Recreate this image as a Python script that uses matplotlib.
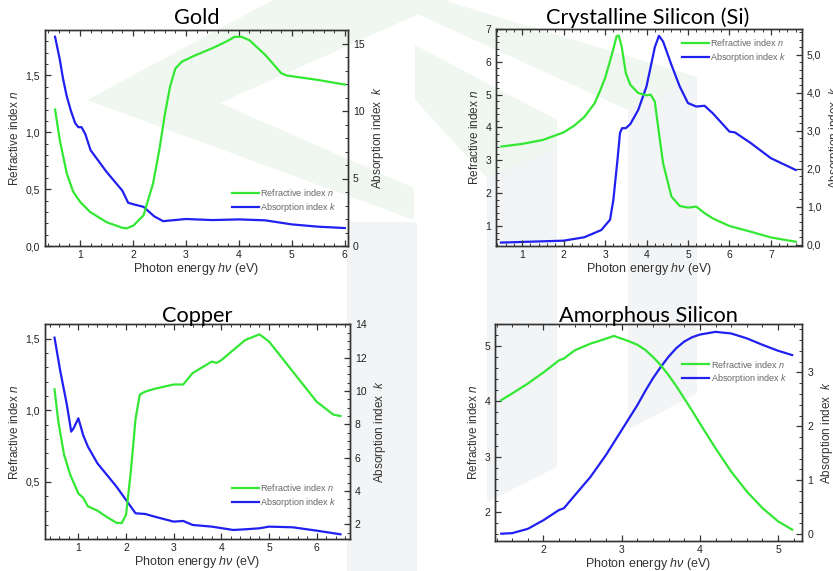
import numpy as np
import matplotlib
matplotlib.use("Agg")
import matplotlib.pyplot as plt
from matplotlib.patches import Polygon
from matplotlib.ticker import MultipleLocator, FuncFormatter

plt.rcParams['font.family'] = ['Liberation Sans', 'DejaVu Sans']
plt.rcParams['mathtext.fontset'] = 'custom'
plt.rcParams['mathtext.it'] = 'Liberation Sans:italic'
plt.rcParams['mathtext.rm'] = 'Liberation Sans'

GREEN = '#33e833'
BLUE = '#2020f0'

# ---- Gold
gold_n_x = [0.53, 0.62, 0.75, 0.87, 1.00, 1.19, 1.50, 1.80, 1.88, 2.01, 2.20, 2.38, 2.50, 2.60, 2.70,
            2.80, 2.92, 3.14, 3.50, 3.77, 3.92, 4.05, 4.20, 4.50, 4.80, 4.90, 5.50, 6.00]
gold_n = [1.20, 0.93, 0.64, 0.48, 0.39, 0.30, 0.21, 0.16, 0.155, 0.18, 0.27, 0.55, 0.85, 1.15, 1.40,
          1.56, 1.62, 1.67, 1.74, 1.80, 1.84, 1.84, 1.81, 1.68, 1.52, 1.50, 1.46, 1.42]
gold_k_x = [0.53, 0.62, 0.68, 0.75, 0.83, 0.91, 0.97, 1.03, 1.10, 1.20, 1.50, 1.80, 1.91, 2.00, 2.20,
            2.40, 2.57, 3.00, 3.50, 4.00, 4.50, 5.00, 5.50, 6.00]
gold_k = [15.5, 13.8, 12.4, 11.1, 10.0, 9.1, 8.8, 8.8, 8.3, 7.1, 5.5, 4.1, 3.2, 3.1, 2.9,
          2.2, 1.84, 2.0, 1.92, 1.97, 1.9, 1.6, 1.43, 1.33]

# ---- Crystalline silicon
csi_n_x = [0.50, 1.00, 1.50, 2.00, 2.25, 2.50, 2.75, 2.88, 3.00, 3.16, 3.28, 3.33, 3.40, 3.50, 3.61,
           3.80, 4.00, 4.10, 4.20, 4.30, 4.40, 4.60, 4.80, 5.00, 5.20, 5.40, 5.60, 6.00, 6.50, 7.00, 7.60]
csi_n = [3.42, 3.50, 3.62, 3.85, 4.05, 4.32, 4.74, 5.12, 5.50, 6.20, 6.78, 6.80, 6.47, 5.66, 5.30,
         5.05, 4.98, 5.00, 4.79, 3.83, 2.91, 1.90, 1.61, 1.56, 1.59, 1.39, 1.23, 1.00, 0.83, 0.65, 0.52]
csi_k_x = [0.49, 2.00, 2.50, 2.91, 3.12, 3.20, 3.30, 3.36, 3.41, 3.50, 3.61, 3.80, 4.00, 4.20, 4.30,
           4.40, 4.60, 4.80, 5.00, 5.20, 5.40, 5.60, 6.00, 6.13, 6.50, 7.00, 7.60]
csi_k = [0.06, 0.11, 0.20, 0.39, 0.66, 1.18, 2.24, 2.94, 3.07, 3.07, 3.18, 3.55, 4.17, 5.20, 5.50,
         5.35, 4.74, 4.17, 3.73, 3.64, 3.66, 3.46, 2.98, 2.96, 2.69, 2.28, 1.97]

# ---- Copper
cu_n_x = [0.50, 0.58, 0.70, 0.83, 1.00, 1.10, 1.20, 1.40, 1.60, 1.80, 1.91, 2.00, 2.10, 2.20, 2.29,
          2.40, 2.60, 3.00, 3.20, 3.40, 3.80, 3.90, 4.00, 4.50, 4.80, 5.00, 5.50, 6.00, 6.35, 6.50]
cu_n = [1.146, 0.92, 0.69, 0.55, 0.42, 0.39, 0.33, 0.30, 0.255, 0.215, 0.213, 0.27, 0.57, 0.94, 1.11,
        1.13, 1.15, 1.18, 1.18, 1.26, 1.34, 1.33, 1.35, 1.49, 1.53, 1.48, 1.27, 1.06, 0.97, 0.96]
cu_k_x = [0.50, 0.62, 0.76, 0.85, 0.90, 1.00, 1.10, 1.20, 1.40, 1.60, 1.80, 2.00, 2.20, 2.40, 2.60,
          3.00, 3.20, 3.40, 3.80, 4.25, 4.50, 4.80, 5.00, 5.50, 6.00, 6.50]
cu_k = [13.2, 11.2, 9.16, 7.56, 7.76, 8.36, 7.36, 6.66, 5.66, 4.96, 4.26, 3.46, 2.66, 2.62, 2.46,
        2.16, 2.20, 1.96, 1.86, 1.66, 1.70, 1.76, 1.86, 1.82, 1.62, 1.40]

# ---- Amorphous silicon
asi_x = [1.46, 1.60, 1.80, 2.00, 2.20, 2.26, 2.40, 2.60, 2.80, 2.90, 3.00, 3.10, 3.20, 3.30, 3.40,
         3.50, 3.60, 3.70, 3.80, 3.90, 4.00, 4.20, 4.40, 4.60, 4.80, 5.00, 5.18]
asi_n = [4.02, 4.14, 4.32, 4.52, 4.74, 4.77, 4.92, 5.04, 5.13, 5.18, 5.13, 5.08, 5.02, 4.93, 4.80,
         4.65, 4.47, 4.27, 4.05, 3.83, 3.60, 3.15, 2.73, 2.37, 2.07, 1.83, 1.68]
asi_k = [0.01, 0.02, 0.10, 0.26, 0.45, 0.48, 0.72, 1.06, 1.47, 1.70, 1.93, 2.16, 2.39, 2.65, 2.89,
         3.10, 3.29, 3.45, 3.57, 3.65, 3.70, 3.75, 3.72, 3.63, 3.51, 3.40, 3.32]

W, H = 833, 571
fig = plt.figure(figsize=(W / 100, H / 100), dpi=100)


def px(pts):
    return [(x / W, 1 - y / H) for x, y in pts]


# faint watermark behind the charts
wm_green = '#f0f7f0'
wm_grey = '#f2f4f6'
for pts, c in [
    ([(87, 100), (273, 0), (450, 0), (220, 103), (414, 188), (414, 220)], wm_green),
    ([(415, 0), (442, 0), (697, 77), (628, 110), (415, 13)], wm_green),
    ([(415, 45), (557, 120), (557, 147), (487, 178), (415, 100)], wm_green),
    ([(347, 222), (417, 222), (417, 571), (347, 571)], wm_grey),
    ([(487, 178), (557, 147), (557, 467), (487, 502)], wm_grey),
    ([(628, 110), (697, 77), (697, 393), (628, 430)], wm_grey),
]:
    fig.patches.append(Polygon(px(pts), closed=True, transform=fig.transFigure,
                               facecolor=c, edgecolor='none', zorder=-5))


def comma(fmt):
    return FuncFormatter(lambda v, p: (fmt % v).replace('.', ','))


def panel(rect, title, title_xy, xn, n, xk, k, xlim, nlim, klim,
          xmaj, nmaj, kmaj, nfmt, kfmt, leg_xy, klabel, xmin=0.2, nmin=None, kmin=None):
    ax = fig.add_axes(rect)
    ax.set_facecolor('none')
    ax2 = ax.twinx()
    ax2.set_facecolor('none')
    l1, = ax.plot(xn, n, color=GREEN, lw=1.6, label='Refractive index $n$')
    l2, = ax2.plot(xk, k, color=BLUE, lw=1.6, label='Absorption index $k$')
    ax.set_xlim(*xlim)
    ax.set_ylim(*nlim)
    ax2.set_ylim(*klim)
    ax.xaxis.set_major_locator(MultipleLocator(xmaj))
    ax.xaxis.set_minor_locator(MultipleLocator(xmin))
    ax.yaxis.set_major_locator(MultipleLocator(nmaj))
    ax.yaxis.set_minor_locator(MultipleLocator(nmin if nmin else nmaj / 5))
    ax2.yaxis.set_major_locator(MultipleLocator(kmaj))
    ax2.yaxis.set_minor_locator(MultipleLocator(kmin if kmin else kmaj / 5))
    ax.yaxis.set_major_formatter(comma(nfmt))
    ax2.yaxis.set_major_formatter(comma(kfmt))
    ax.xaxis.set_major_formatter(FuncFormatter(lambda v, p: '%d' % v))
    for a in (ax, ax2):
        for s in a.spines.values():
            s.set_color('#333333')
            s.set_linewidth(1.0)
        a.tick_params(which='both', direction='in', colors='#333333', labelsize=7.5,
                      labelcolor='#222222')
        a.tick_params(which='major', length=4, width=0.9)
        a.tick_params(which='minor', length=2, width=0.7)
    ax.tick_params(axis='x', which='both', top=True)
    ax.tick_params(axis='y', which='both', right=False)
    ax.tick_params(axis='x', pad=3)
    ax.set_xlabel(r'Photon energy $h\nu$ (eV)', fontsize=9, color='#333333', labelpad=0.5)
    ax.set_ylabel('Refractive index $n$', fontsize=8.5, color='#333333', labelpad=3)
    ax2.set_ylabel(klabel, fontsize=8.5, color='#333333', labelpad=4)
    leg = ax.legend([l1, l2], [l1.get_label(), l2.get_label()], loc='center left',
                    bbox_to_anchor=leg_xy, frameon=False, fontsize=6.5, handlelength=3.0,
                    handletextpad=0.15, labelspacing=0.3, borderpad=0, borderaxespad=0)
    for t in leg.get_texts():
        t.set_color('#666666')
    ax.set_zorder(ax2.get_zorder() + 1)
    fig.text(title_xy[0] / W, 1 - title_xy[1] / H, title, ha='center', va='center',
             fontsize=15.7, family='Lato', color='black')
    return ax


panel([45 / W, 1 - 246 / H, 303 / W, 216 / H], 'Gold', (197, 18),
      gold_n_x, gold_n, gold_k_x, gold_k, (0.34, 6.06), (0, 1.9), (0, 16),
      1, 0.5, 5, '%.1f', '%d', (0.617, 0.21), 'Absorption index  $k$', kmin=1, nmin=0.1)

panel([496 / W, 1 - 246 / H, 306 / W, 217 / H], 'Crystalline Silicon (Si)', (648, 18),
      csi_n_x, csi_n, csi_k_x, csi_k, (0.37, 7.75), (0.39, 7.0), (-0.03, 5.68),
      1, 1, 1, '%d', '%.1f', (0.608, 0.90), 'Absorption index  $k$', nmin=0.2, kmin=0.2)

panel([45 / W, 1 - 539.3 / H, 305 / W, 215 / H], 'Copper', (197, 316),
      cu_n_x, cu_n, cu_k_x, cu_k, (0.30, 6.70), (0.10, 1.60), (1.1, 14),
      1, 0.5, 2, '%.1f', '%d', (0.613, 0.204), 'Absorption index  $k$', nmin=0.1, kmin=0.5)

panel([495 / W, 1 - 540.7 / H, 307.3 / W, 216.4 / H], 'Amorphous Silicon', (648, 316),
      asi_x, asi_n, asi_x, asi_k, (1.38, 5.31), (1.48, 5.39), (-0.12, 3.89),
      1, 1, 1, '%d', '%d', (0.609, 0.78), 'Absorption index  $k$', nmin=0.2, kmin=0.2)

fig.savefig('out.png', dpi=100)
plt.close(fig)
